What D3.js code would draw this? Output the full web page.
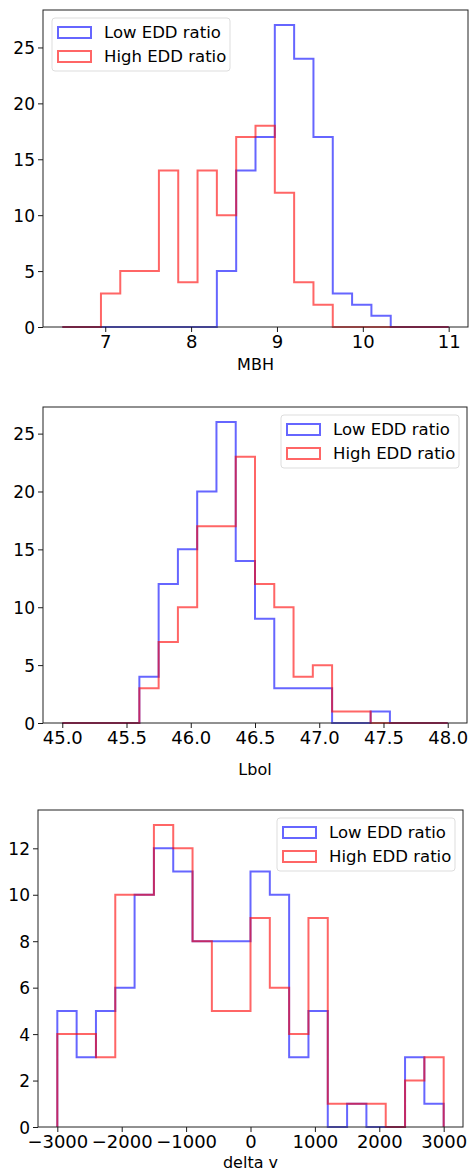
<!DOCTYPE html>
<html>
<head>
<meta charset="utf-8">
<script src="https://cdn.jsdelivr.net/npm/d3@7"></script>
<style>
  html, body { margin: 0; padding: 0; background: #fff; }
  svg { display: block; font-family: "DejaVu Sans", sans-serif; }
</style>
</head>
<body>
<svg id="chart" width="470" height="1171"></svg>
<script>
// Series names
const seriesNames = ["Low EDD ratio", "High EDD ratio"];

// MBH histogram: 20 bins over [6.5, 11]
const mbhRange = [6.5, 11];
const mbhLow  = [0, 0, 0, 0, 0, 0, 0, 0, 5, 14, 17, 27, 24, 17, 3, 2, 1, 0, 0, 0];
const mbhHigh = [0, 0, 3, 5, 5, 14, 4, 14, 10, 17, 18, 12, 4, 2, 0, 0, 0, 0, 0, 0];
const mbhXTicks = [7, 8, 9, 10, 11];
const mbhYTicks = [0, 5, 10, 15, 20, 25];

// Lbol histogram: 20 bins over [45, 48]
const lbolRange = [45, 48];
const lbolLow  = [0, 0, 0, 0, 4, 12, 15, 20, 26, 14, 9, 3, 3, 3, 0, 0, 1, 0, 0, 0];
const lbolHigh = [0, 0, 0, 0, 3, 7, 10, 17, 17, 23, 12, 10, 4, 5, 1, 1, 0, 0, 0, 0];
const lbolXTicks = [45.0, 45.5, 46.0, 46.5, 47.0, 47.5, 48.0];
const lbolYTicks = [0, 5, 10, 15, 20, 25];

// delta v histogram: 20 bins over [-3000, 3000]
const dvRange = [-3000, 3000];
const dvLow  = [5, 3, 5, 6, 10, 12, 11, 8, 8, 8, 11, 10, 3, 5, 0, 1, 0, 0, 3, 1];
const dvHigh = [4, 4, 3, 10, 10, 13, 12, 8, 5, 5, 9, 6, 4, 9, 1, 1, 1, 0, 2, 3];
const dvXTicks = [-3000, -2000, -1000, 0, 1000, 2000, 3000];
const dvYTicks = [0, 2, 4, 6, 8, 10, 12];

const colors = ["rgba(0,0,255,0.6)", "rgba(255,0,0,0.6)"];

const panels = [
  { range: mbhRange, series: [mbhLow, mbhHigh], xTicks: mbhXTicks, yTicks: mbhYTicks,
    label: "MBH", fmt: d3.format("d"),
    box: { left: 43, right: 468, top: 10, bottom: 327 }, labelY: 370, legend: "left" },
  { range: lbolRange, series: [lbolLow, lbolHigh], xTicks: lbolXTicks, yTicks: lbolYTicks,
    label: "Lbol", fmt: d3.format(".1f"),
    box: { left: 43, right: 467, top: 407, bottom: 723 }, labelY: 775, legend: "right" },
  { range: dvRange, series: [dvLow, dvHigh], xTicks: dvXTicks, yTicks: dvYTicks,
    label: "delta v", fmt: d => d3.format("d")(d).replace("-", "\u2212"),
    box: { left: 38, right: 463, top: 810, bottom: 1127 }, labelY: 1168, legend: "right" }
];

const svg = d3.select("#chart");

panels.forEach(p => {
  const nb = p.series[0].length;
  const [lo, hi] = p.range;
  const edges = d3.range(nb + 1).map(i => lo + (hi - lo) * i / nb);
  const pad = (hi - lo) * 0.05;
  const ymax = d3.max(p.series.flat()) * 1.05;

  const x = d3.scaleLinear().domain([lo - pad, hi + pad]).range([p.box.left, p.box.right]);
  const y = d3.scaleLinear().domain([0, ymax]).range([p.box.bottom, p.box.top]);

  const g = svg.append("g");

  // step outlines
  const line = d3.line().x(d => x(d[0])).y(d => y(d[1]));
  p.series.forEach((counts, si) => {
    const pts = [[edges[0], 0]];
    counts.forEach((c, i) => { pts.push([edges[i], c]); pts.push([edges[i + 1], c]); });
    pts.push([edges[nb], 0]);
    g.append("path")
      .attr("d", line(pts))
      .attr("fill", "none")
      .attr("stroke", colors[si])
      .attr("stroke-width", 2)
      .attr("stroke-linejoin", "miter");
  });

  // axes
  const xAxis = d3.axisBottom(x).tickValues(p.xTicks).tickFormat(p.fmt).tickSize(5).tickPadding(2);
  const yAxis = d3.axisLeft(y).tickValues(p.yTicks).tickFormat(d3.format("d")).tickSize(5).tickPadding(3);

  const gx = g.append("g").attr("transform", `translate(0,${p.box.bottom})`).call(xAxis);
  const gy = g.append("g").attr("transform", `translate(${p.box.left},0)`).call(yAxis);
  [gx, gy].forEach(a => {
    a.select(".domain").remove();
    a.selectAll(".tick line").attr("stroke", "#000").attr("stroke-width", 0.9);
    a.selectAll(".tick text").attr("fill", "#000")
      .style("font-family", "DejaVu Sans, sans-serif");
  });
  gx.selectAll(".tick text").style("font-size", "18px").attr("dy", "0.76em");
  gy.selectAll(".tick text").style("font-size", "17px").attr("dy", "0.36em");

  // frame
  g.append("rect")
    .attr("x", p.box.left).attr("y", p.box.top)
    .attr("width", p.box.right - p.box.left).attr("height", p.box.bottom - p.box.top)
    .attr("fill", "none").attr("stroke", "#222").attr("stroke-width", 1);

  // x label
  g.append("text")
    .attr("x", (p.box.left + p.box.right) / 2).attr("y", p.labelY)
    .attr("text-anchor", "middle").style("font-size", "16px").attr("fill", "#000")
    .text(p.label);

  // legend
  const lw = 178, lh = 53;
  const lx = p.legend === "left" ? p.box.left + 9 : p.box.right - 8 - lw;
  const ly = p.box.top + 8;
  const lg = g.append("g").attr("transform", `translate(${lx},${ly})`);
  lg.append("rect").attr("width", lw).attr("height", lh).attr("rx", 3)
    .attr("fill", "rgba(255,255,255,0.8)").attr("stroke", "#ddd").attr("stroke-width", 1);
  seriesNames.forEach((name, i) => {
    const ry = 9 + i * 24;
    lg.append("rect").attr("x", 6).attr("y", ry).attr("width", 33).attr("height", 11)
      .attr("fill", "none").attr("stroke", colors[i]).attr("stroke-width", 2);
    lg.append("text").attr("x", 52).attr("y", ry + 11)
      .style("font-size", "16.5px").attr("fill", "#000").text(name);
  });
});
</script>
</body>
</html>
